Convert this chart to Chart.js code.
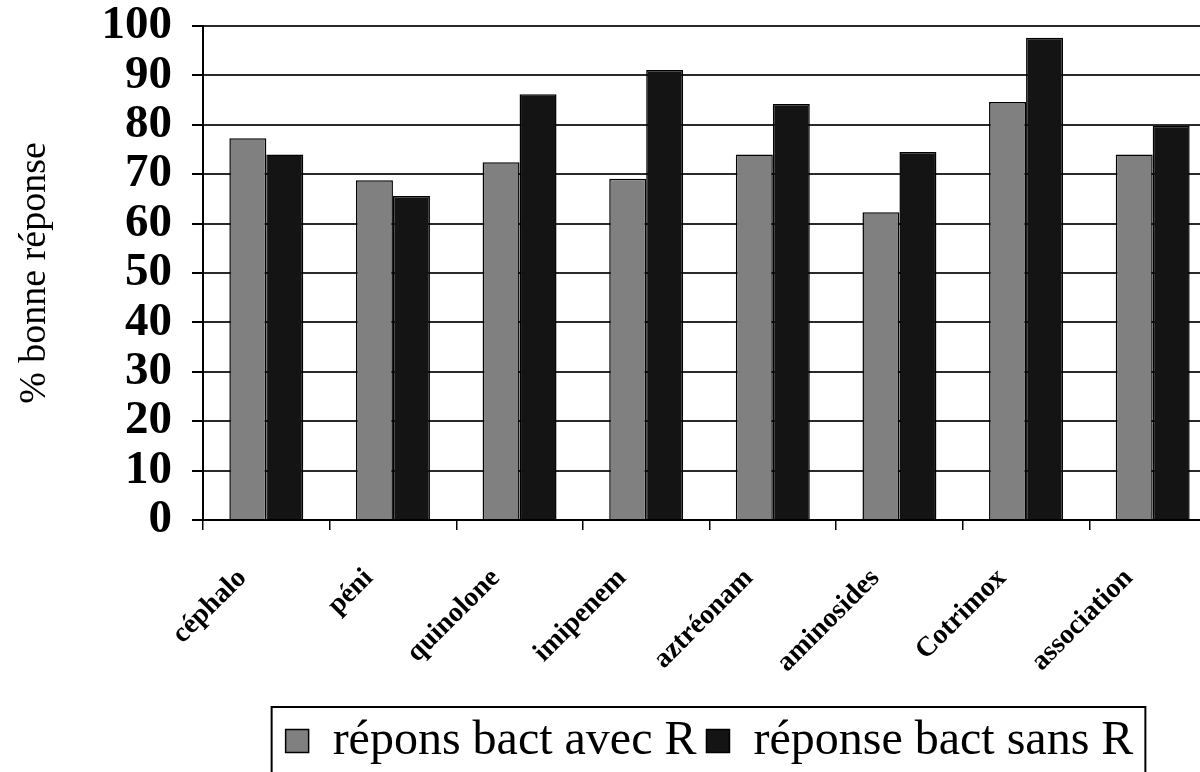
<!DOCTYPE html>
<html lang="fr">
<head>
<meta charset="utf-8">
<title>% bonne réponse par antibiotique</title>
<script src="https://cdn.jsdelivr.net/npm/chart.js@4.4.1/dist/chart.umd.min.js"></script>
<style>
  html, body { margin: 0; padding: 0; background: #fff; overflow: hidden; }
  #wrap { width: 1200px; height: 772px; overflow: hidden; position: relative; }
  canvas { display: block; }
</style>
</head>
<body>
<div id="wrap"><canvas id="chart" width="1230" height="775"></canvas></div>
<script>
// Antibiotic families (x axis)
const categories = ['céphalo', 'péni', 'quinolone', 'imipenem', 'aztréonam', 'aminosides', 'Cotrimox', 'association'];

// Series names
const seriesAvecLabel = 'répons bact avec R';
const seriesSansLabel = 'réponse bact sans R';

// % of correct answers
const avecR = [77.3, 68.8, 72.4, 69.1, 74.0, 62.3, 84.6, 74.0];
const sansR = [74.0, 65.6, 86.2, 91.1, 84.2, 74.5, 97.6, 79.8];

// Y axis range
const yMin = 0;
const yMax = 100;
const yStep = 10;

const axisTitle = '% bonne réponse';
const serif = '"Liberation Serif", "Times New Roman", Times, serif';

// Frame drawn around the legend row
const legendFrame = {
  id: 'legendFrame',
  afterDraw(chart) {
    const lg = chart.legend;
    if (!lg || !lg.legendHitBoxes || !lg.legendHitBoxes.length) return;
    const hb = lg.legendHitBoxes;
    const last = hb[hb.length - 1];
    const x0 = hb[0].left - 14;
    const x1 = last.left + last.width + 12;
    const y0 = lg.top;
    const y1 = lg.bottom + 30;
    const ctx = chart.ctx;
    ctx.save();
    ctx.strokeStyle = '#000';
    ctx.lineWidth = 2;
    ctx.strokeRect(x0, y0, x1 - x0, y1 - y0);
    ctx.restore();
  }
};

new Chart(document.getElementById('chart'), {
  type: 'bar',
  data: {
    labels: categories,
    datasets: [
      {
        label: seriesAvecLabel,
        data: avecR,
        backgroundColor: '#808080',
        borderColor: '#000',
        borderWidth: 1.5,
        categoryPercentage: 0.584,
        barPercentage: 1.0
      },
      {
        label: seriesSansLabel,
        data: sansR,
        backgroundColor: '#141414',
        borderColor: '#000',
        borderWidth: 1.5,
        categoryPercentage: 0.584,
        barPercentage: 1.0
      }
    ]
  },
  options: {
    responsive: false,
    animation: false,
    devicePixelRatio: 1,
    layout: { padding: { top: 26, right: 14, left: 0, bottom: 0 } },
    plugins: {
      tooltip: { enabled: false },
      legend: {
        position: 'bottom',
        fullSize: false,
        align: 'center',
        labels: {
          color: '#000',
          font: { family: serif, size: 48, weight: 'normal' },
          boxWidth: 23,
          boxHeight: 23,
          padding: 10
        }
      }
    },
    scales: {
      x: {
        grid: {
          display: true,
          drawOnChartArea: false,
          drawTicks: true,
          tickLength: 10,
          color: '#000',
          lineWidth: 1.5,
          offset: true
        },
        border: { display: true, color: '#000', width: 2 },
        ticks: {
          color: '#000',
          font: { family: serif, size: 28, weight: 'bold' },
          minRotation: 45,
          maxRotation: 45,
          autoSkip: false,
          padding: 32,
          labelOffset: -24
        },
        afterFit(scale) { scale.height = 187; }
      },
      y: {
        min: yMin,
        max: yMax,
        grid: {
          color: '#2a2a2a',
          lineWidth: 2,
          drawTicks: true,
          tickLength: 11,
          tickColor: '#000'
        },
        border: { display: true, color: '#000', width: 2 },
        ticks: {
          stepSize: yStep,
          autoSkip: false,
          color: '#000',
          padding: 20,
          font: { family: serif, size: 47, weight: 'bold', lineHeight: 0.2 }
        },
        title: {
          display: true,
          text: axisTitle,
          color: '#000',
          font: { family: serif, size: 38, weight: 'normal', lineHeight: 1.2 },
          padding: { top: 12, bottom: 0 }
        },
        afterFit(scale) { scale.width = 203; }
      }
    }
  },
  plugins: [legendFrame]
});
</script>
</body>
</html>
